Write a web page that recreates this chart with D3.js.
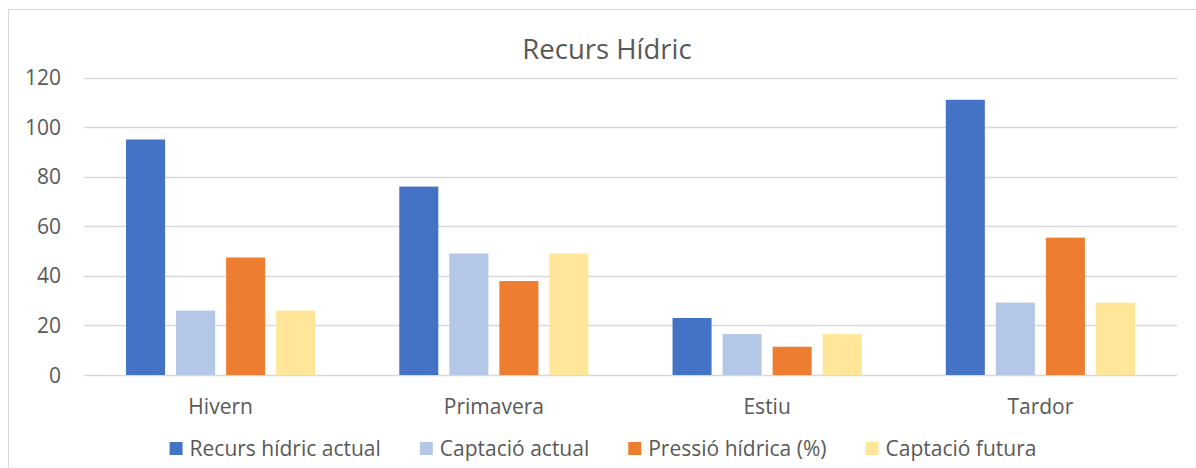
<!DOCTYPE html>
<html lang="ca">
  <head>
    <meta charset="UTF-8" />
    <title>Recurs Hídric</title>
    <script src="https://d3js.org/d3.v7.min.js"></script>
    <style>
      body { margin: 0; background: #fff; }
      text { font-family: "Open Sans", "Noto Sans", sans-serif; fill: #595959; }
    </style>
  </head>

  <body>
    <svg width="1196" height="468"></svg>

    <script>
      const seasons = ["Hivern", "Primavera", "Estiu", "Tardor"];
      const seriesNames = [
        "Recurs hídric actual",
        "Captació actual",
        "Pressió hídrica (%)",
        "Captació futura",
      ];
      const recursActual = [95, 76, 23, 111];
      const captacioActual = [26, 49, 16.5, 29.2];
      const pressioHidrica = [47.4, 37.9, 11.4, 55.4];
      const captacioFutura = [26, 49, 16.5, 29.2];
      const yTicks = [0, 20, 40, 60, 80, 100, 120];
      const colors = ["#4472c4", "#b4c7e7", "#ed7d31", "#ffe699"];

      const allSeries = [recursActual, captacioActual, pressioHidrica, captacioFutura];

      let svg = d3.select("svg");

      // chart frame (only left and top edges show in the crop)
      svg.append("rect")
        .attr("x", 8.5).attr("y", 9.5)
        .attr("width", 1300).attr("height", 600)
        .attr("fill", "none")
        .attr("stroke", "#d9d9d9");

      const plotLeft = 84, plotRight = 1177, plotTop = 77.5, plotBottom = 375;

      let x = d3.scaleBand().domain(seasons).range([plotLeft, plotRight]);
      let x1 = d3.scaleBand()
        .domain(d3.range(allSeries.length))
        .range([0, x.bandwidth()])
        .paddingInner(0.22)
        .paddingOuter(0.84);
      let y = d3.scaleLinear().domain([0, 120]).range([plotBottom, plotTop]);

      // gridlines
      svg.append("g")
        .selectAll("line")
        .data(yTicks)
        .enter()
        .append("line")
        .attr("x1", plotLeft).attr("x2", plotRight)
        .attr("y1", d => Math.round(y(d)) + 0.5)
        .attr("y2", d => Math.round(y(d)) + 0.5)
        .attr("stroke", "#d9d9d9")
        .attr("stroke-width", 1.5);

      // y labels
      svg.append("g")
        .selectAll("text")
        .data(yTicks)
        .enter()
        .append("text")
        .attr("x", 61)
        .attr("y", d => y(d) + 7.5)
        .attr("text-anchor", "end")
        .attr("font-size", 21)
        .text(d => d);

      // bars
      let groups = svg.append("g")
        .selectAll("g")
        .data(seasons)
        .enter()
        .append("g")
        .attr("transform", d => `translate(${x(d)},0)`);

      groups.selectAll("rect")
        .data((d, i) => allSeries.map((s, k) => ({ k: k, v: s[i] })))
        .enter()
        .append("rect")
        .attr("x", d => x1(d.k))
        .attr("width", x1.bandwidth())
        .attr("y", d => y(d.v))
        .attr("height", d => y(0) - y(d.v))
        .attr("fill", d => colors[d.k]);

      // category labels
      svg.append("g")
        .selectAll("text")
        .data(seasons)
        .enter()
        .append("text")
        .attr("x", d => x(d) + x.bandwidth() / 2)
        .attr("y", 414)
        .attr("text-anchor", "middle")
        .attr("font-size", 21)
        .text(d => d);

      // title
      svg.append("text")
        .attr("x", 607)
        .attr("y", 59)
        .attr("text-anchor", "middle")
        .attr("font-size", 27.5)
        .text("Recurs Hídric");

      // legend, laid out from measured text widths and centred
      let legend = svg.append("g");
      let items = legend.selectAll("g")
        .data(seriesNames)
        .enter()
        .append("g");

      items.append("rect")
        .attr("x", 0).attr("y", -14)
        .attr("width", 13).attr("height", 13)
        .attr("fill", (d, i) => colors[i]);

      items.append("text")
        .attr("x", 20)
        .attr("font-size", 21)
        .text(d => d);

      let offset = 0;
      items.each(function () {
        let w = 20 + d3.select(this).select("text").node().getComputedTextLength();
        d3.select(this).attr("transform", `translate(${offset},0)`);
        offset += w + 39;
      });
      let legendWidth = offset - 39;
      legend.attr("transform", `translate(${603 - legendWidth / 2},456)`);
    </script>
  </body>
</html>
